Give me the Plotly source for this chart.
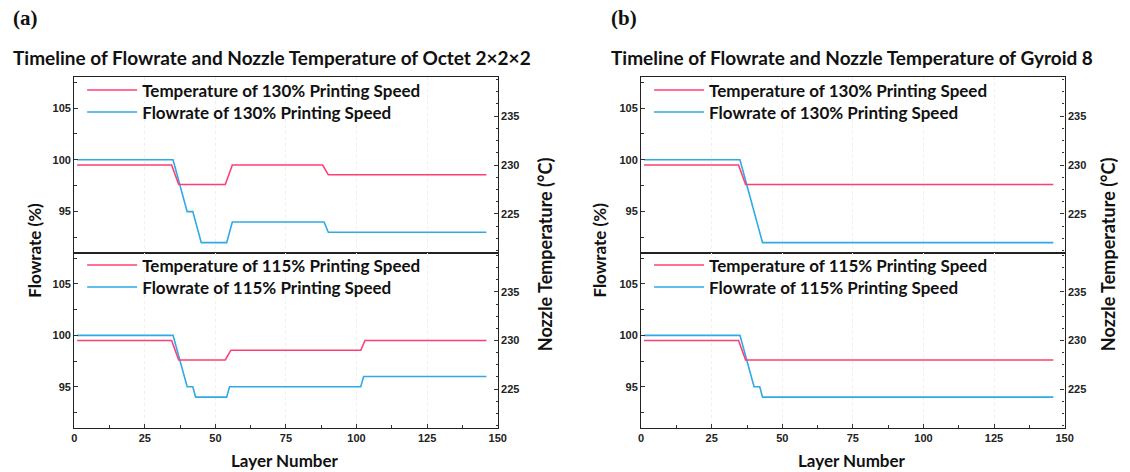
import plotly.graph_objects as go

# ---------------- data (layer number -> value at vertices) ----------------
# Octet 2x2x2, 130% printing speed
oct130_flow_x = [1, 35, 40, 42, 45, 54, 56, 88.5, 90, 146]
oct130_flow_y = [100, 100, 95, 95, 92, 92, 94, 94, 93, 93]
oct130_temp_x = [1, 34.5, 37, 53.5, 56, 88, 90, 146]
oct130_temp_y = [230, 230, 228, 228, 230, 230, 229, 229]
# Octet 2x2x2, 115% printing speed
oct115_flow_x = [1, 35, 40, 42, 43, 54, 55, 101.5, 102.5, 146]
oct115_flow_y = [100, 100, 95, 95, 94, 94, 95, 95, 96, 96]
oct115_temp_x = [1, 34.5, 37, 53.5, 55.5, 101.5, 103, 146]
oct115_temp_y = [230, 230, 228, 228, 229, 229, 230, 230]
# Gyroid 8, 130% printing speed
gyr130_flow_x = [1, 35, 43, 146]
gyr130_flow_y = [100, 100, 92, 92]
gyr130_temp_x = [1, 34.5, 37, 146]
gyr130_temp_y = [230, 230, 228, 228]
# Gyroid 8, 115% printing speed
gyr115_flow_x = [1, 35, 40, 42, 43, 146]
gyr115_flow_y = [100, 100, 95, 95, 94, 94]
gyr115_temp_x = [1, 34.5, 37, 146]
gyr115_temp_y = [230, 230, 228, 228]

x_ticks = [0, 25, 50, 75, 100, 125, 150]
flow_range = [91, 108]
temp_range = [221, 239]

RED = "#ff3f73"
BLUE = "#2eaae6"

W, H = 1130, 472
def fx(px):
    return px / W
def fy(py):
    return 1 - py / H

# (x axis, flow y axis, temp y axis, flow, temp, speed, legend x px, legend row y px)
panels = [
    ("x", "y", "y2", (oct130_flow_x, oct130_flow_y), (oct130_temp_x, oct130_temp_y), "130%", 80, (90.5, 112.5)),
    ("x2", "y3", "y4", (oct115_flow_x, oct115_flow_y), (oct115_temp_x, oct115_temp_y), "115%", 80, (265.5, 287.5)),
    ("x3", "y5", "y6", (gyr130_flow_x, gyr130_flow_y), (gyr130_temp_x, gyr130_temp_y), "130%", 653, (90.5, 112.5)),
    ("x4", "y7", "y8", (gyr115_flow_x, gyr115_flow_y), (gyr115_temp_x, gyr115_temp_y), "115%", 653, (265.5, 287.5)),
]

legfont = dict(family="Lato", size=17, color="#111", weight="bold")
def legend(xpx, ypx):
    return dict(x=fx(xpx), y=fy(ypx), xanchor="left", yanchor="middle", bgcolor="rgba(0,0,0,0)",
                font=legfont, itemwidth=50, borderwidth=0)

fig = go.Figure()
legends = {}
n = 0
for xa, yf, yt, flow, temp, sp, lx, (ry1, ry2) in panels:
    n += 1
    l1 = "legend" if n == 1 else f"legend{n}"
    legends[l1] = legend(lx, ry1)
    fig.add_trace(go.Scatter(x=temp[0], y=temp[1], xaxis=xa, yaxis=yt, mode="lines",
                             line=dict(color=RED, width=1.6),
                             name=f"Temperature of {sp} Printing Speed", legend=l1))
    n += 1
    l2 = f"legend{n}"
    legends[l2] = legend(lx, ry2)
    fig.add_trace(go.Scatter(x=flow[0], y=flow[1], xaxis=xa, yaxis=yf, mode="lines",
                             line=dict(color=BLUE, width=1.6),
                             name=f"Flowrate of {sp} Printing Speed", legend=l2))

xdom_l = [fx(72), fx(500)]
xdom_r = [fx(645), fx(1073)]
ydom_t = [fy(253), fy(77)]
ydom_b = [fy(428), fy(253)]

tickfont = dict(family="Liberation Sans", size=11, color="#222", weight="bold")
minor_x = dict(dtick=12.5, ticks="inside", ticklen=3, tickcolor="#333", showgrid=False)

def xaxis(dom, anchor, labels):
    return dict(domain=dom, anchor=anchor, range=[0, 150], tickvals=x_ticks,
                showticklabels=labels, showline=True, linecolor="#222", linewidth=1.3,
                mirror=True, ticks="inside" if labels else "", ticklen=4, tickcolor="#333",
                minor=minor_x if labels else None,
                showgrid=True, gridcolor="#efefef", griddash="dot", gridwidth=1,
                zeroline=False, tickfont=tickfont)

def yflow(dom, anchor):
    return dict(domain=dom, anchor=anchor, range=flow_range, dtick=5, tick0=0,
                showline=True, linecolor="#222", linewidth=1.3, mirror=True,
                ticks="inside", ticklen=4, tickcolor="#333",
                minor=dict(dtick=2.5, ticks="inside", ticklen=3, tickcolor="#333", showgrid=False),
                showgrid=False, zeroline=False, tickfont=tickfont)

def ytemp(over, anchor):
    return dict(overlaying=over, anchor=anchor, side="right", range=temp_range, dtick=5, tick0=0,
                showline=True, linecolor="#222", linewidth=1.3,
                ticks="inside", ticklen=4, tickcolor="#333",
                minor=dict(dtick=1.25, ticks="inside", ticklen=2, tickcolor="#333", showgrid=False),
                showgrid=False, zeroline=False, tickfont=tickfont)

titlefont = dict(family="Lato", size=19, color="#111", weight="bold")
flowfont = dict(family="Lato", size=17, color="#111", weight="bold")
layerfont = dict(family="Lato", size=17, color="#111", weight="bold")
nozzlefont = dict(family="Lato", size=18, color="#111", weight="bold")

def ann(text, xpx, ypx, font, xanchor="left", angle=0):
    return dict(text=text, x=fx(xpx), y=fy(ypx), xref="paper", yref="paper",
                xanchor=xanchor, yanchor="middle", showarrow=False, textangle=angle, font=font)

serif = dict(family="Liberation Serif", size=21, color="#111", weight="bold")
annotations = [
    ann("(a)", 8, 18, serif),
    ann("(b)", 612, 18, serif),
    ann("Timeline of Flowrate and Nozzle Temperature of Octet 2×2×2", 8, 57, titlefont),
    ann("Timeline of Flowrate and Nozzle Temperature of Gyroid 8", 612, 57, titlefont),
    ann("Flowrate (%)", 31, 250, flowfont, "center", -90),
    ann("Flowrate (%)", 602, 250, flowfont, "center", -90),
    ann("Nozzle Temperature (°C)", 548, 254, nozzlefont, "center", -90),
    ann("Nozzle Temperature (°C)", 1117, 254, nozzlefont, "center", -90),
    ann("Layer Number", 285, 460, layerfont, "center"),
    ann("Layer Number", 858, 460, layerfont, "center"),
]

fig.update_layout(
    width=W, height=H, margin=dict(l=0, r=0, t=0, b=0),
    paper_bgcolor="white", plot_bgcolor="white",
    showlegend=True,
    xaxis=xaxis(xdom_l, "y", False),
    xaxis2=xaxis(xdom_l, "y3", True),
    xaxis3=xaxis(xdom_r, "y5", False),
    xaxis4=xaxis(xdom_r, "y7", True),
    yaxis=yflow(ydom_t, "x"),
    yaxis2=ytemp("y", "x"),
    yaxis3=yflow(ydom_b, "x2"),
    yaxis4=ytemp("y3", "x2"),
    yaxis5=yflow(ydom_t, "x3"),
    yaxis6=ytemp("y5", "x3"),
    yaxis7=yflow(ydom_b, "x4"),
    yaxis8=ytemp("y7", "x4"),
    annotations=annotations,
    **legends,
)

fig.write_html("out.html")
